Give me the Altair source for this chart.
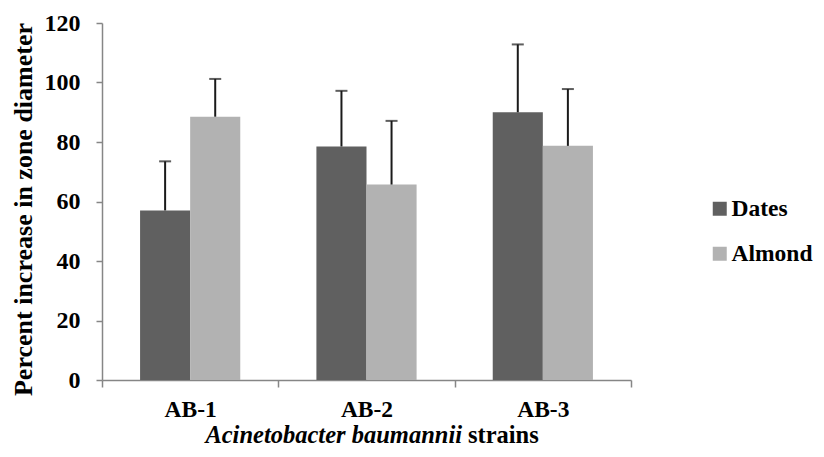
import altair as alt
import pandas as pd

strains = ["AB-1", "AB-2", "AB-3"]
series = ["Dates", "Almond"]
dates_mean = [57.0, 78.5, 90.0]
dates_top = [73.5, 97.2, 112.8]
almond_mean = [88.5, 65.7, 78.7]
almond_top = [101.2, 87.1, 97.8]
colors = ["#606060", "#b2b2b2"]
y_ticks = [0, 20, 40, 60, 80, 100, 120]

rows = []
for i, s in enumerate(strains):
    rows.append({"strain": s, "series": "Dates", "value": dates_mean[i], "top": dates_top[i]})
    rows.append({"strain": s, "series": "Almond", "value": almond_mean[i], "top": almond_top[i]})
df = pd.DataFrame(rows)

FONT = "Liberation Serif"

x = alt.X(
    "strain:N",
    sort=strains,
    scale=alt.Scale(paddingInner=0, paddingOuter=0),
    axis=alt.Axis(
        title=None,
        tickBand="extent",
        labelAngle=0,
        labelPadding=10,
        labelFontSize=23.5,
        tickSize=7,
    ),
)
xo = alt.XOffset("series:N", sort=series, scale=alt.Scale(paddingInner=0, paddingOuter=0.76))
y = alt.Y(
    "value:Q",
    scale=alt.Scale(domain=[0, 120]),
    axis=alt.Axis(
        values=y_ticks,
        grid=False,
        title="Percent increase in zone diameter",
        titleX=-79,
        titleY=186,
        titleAngle=-90,
        titleAlign="center",
        titleBaseline="middle",
        titleFontSize=26,
        tickSize=6,
        labelPadding=16,
    ),
)

base = alt.Chart(df)

bars = base.mark_bar().encode(
    x=x,
    xOffset=xo,
    y=y,
    color=alt.Color(
        "series:N",
        sort=series,
        scale=alt.Scale(domain=series, range=colors),
        legend=alt.Legend(
            title=None,
            orient="none",
            legendX=606,
            legendY=174,
            symbolType="square",
            symbolSize=196,
            symbolStrokeWidth=0,
            labelFont=FONT,
            labelFontSize=23.5,
            labelFontWeight="bold",
            labelColor="#000000",
            labelOffset=0,
            rowPadding=20,
        ),
    ),
)

rules = base.mark_rule(color="#1a1a1a", strokeWidth=2).encode(
    x=x, xOffset=xo, y="value:Q", y2="top:Q"
)
caps = base.mark_tick(color="#1a1a1a", thickness=2, size=12, orient="horizontal").encode(
    x=x, xOffset=xo, y="top:Q"
)

t1 = alt.Chart(pd.DataFrame({"t": ["Acinetobacter baumannii"]})).mark_text(
    font=FONT, fontSize=24.5, fontWeight="bold", fontStyle="italic", align="right", baseline="middle", color="#000000"
).encode(text="t:N", x=alt.value(360), y=alt.value(413))
t2 = alt.Chart(pd.DataFrame({"t": ["strains"]})).mark_text(
    font=FONT, fontSize=24.5, fontWeight="bold", align="left", baseline="middle", color="#000000"
).encode(text="t:N", x=alt.value(366), y=alt.value(413))

chart = (
    alt.layer(bars, rules, caps, t1, t2)
    .properties(
        width=529,
        height=357,
        autosize=alt.AutoSizeParams(type="none"),
        padding={"left": 94, "top": 15, "right": 185, "bottom": 69},
    )
    .configure(font=FONT)
    .configure_view(stroke=None)
    .configure_axis(
        domainColor="#868686",
        tickColor="#868686",
        domainWidth=1.5,
        tickWidth=1.5,
        labelFont=FONT,
        labelFontSize=24,
        labelFontWeight="bold",
        labelColor="#000000",
        titleFont=FONT,
        titleFontWeight="bold",
        titleColor="#000000",
    )
    .configure_text(font=FONT)
    .configure_legend(labelFont=FONT)
)

chart.save("out.html", embed_options={"renderer": "svg", "actions": False})
